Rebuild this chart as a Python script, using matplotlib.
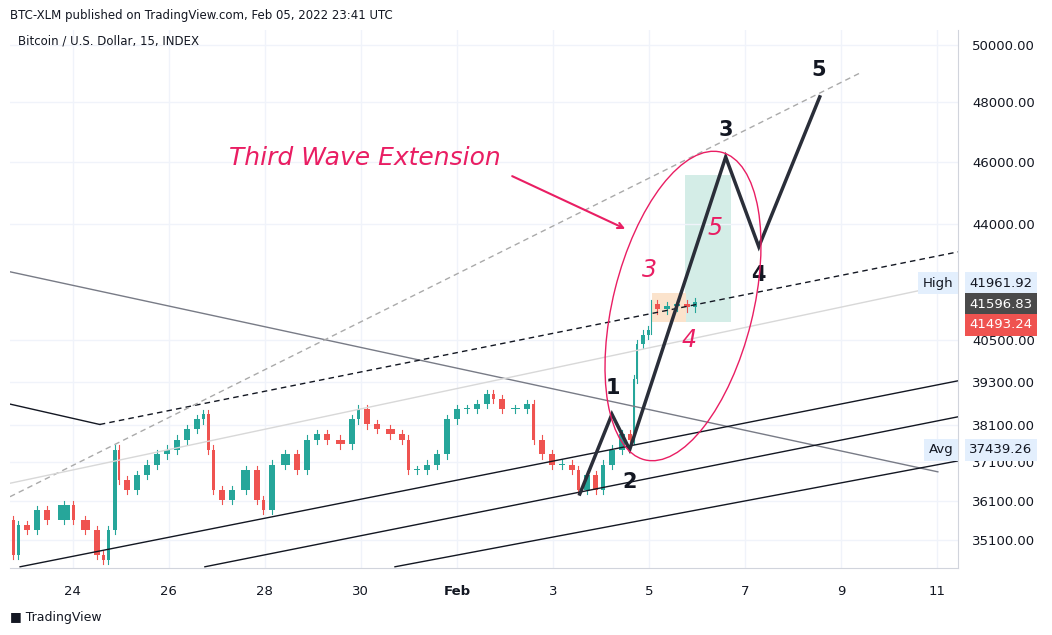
import numpy as np
import matplotlib.pyplot as plt
from matplotlib.patches import Ellipse, Rectangle
from matplotlib.transforms import IdentityTransform

# price path (day of Jan, 32 = Feb 1)
days = [22.69, 22.79, 22.9, 23.1, 23.31, 23.52, 23.94, 24.04, 24.35, 24.56, 24.67, 24.77, 24.92, 24.98,
        25.19, 25.4, 25.6, 25.81, 26.02, 26.23, 26.44, 26.65, 26.75, 26.85, 26.96, 27.17, 27.38, 27.69,
        27.9, 28.0, 28.21, 28.52, 28.73, 28.94, 29.15, 29.35, 29.67, 29.88, 29.98, 30.19, 30.4, 30.71,
        30.92, 31.02, 31.23, 31.44, 31.65, 31.85, 32.06, 32.27, 32.48, 32.69, 32.79, 33.0, 33.31, 33.52,
        33.63, 33.83, 34.04, 34.25, 34.46, 34.56, 34.77, 34.94, 35.08, 35.29, 35.5, 35.65, 35.71, 35.77,
        35.92, 36.02, 36.06, 36.23, 36.44, 36.65, 36.85, 37.0]
closes = [35600, 34720, 35480, 35350, 35860, 35600, 35980, 35600, 35350, 34720, 34600, 35350, 37440, 36630,
          36370, 36770, 37040, 37310, 37440, 37710, 37990, 38260, 38400, 37440, 36370, 36110, 36370, 36900,
          36110, 35860, 37040, 37310, 36900, 37710, 37850, 37710, 37580, 38260, 38540, 38120, 37990, 37850,
          37710, 36900, 36900, 37040, 37310, 38260, 38540, 38540, 38680, 38960, 38820, 38540, 38540, 38680,
          37710, 37310, 37040, 37040, 36900, 36370, 36770, 36370, 37040, 37440, 37850, 37710, 39380, 40380,
          40650, 40790, 41540, 41390, 41480, 41540, 41450, 41600]

yticks = [35100, 36100, 37100, 38100, 39300, 40500, 44000, 46000, 48000, 50000]
xticks = [24, 26, 28, 30, 32, 34, 36, 38, 40, 42]
xlabels = ["24", "26", "28", "30", "Feb", "3", "5", "7", "9", "11"]

# drawn lines: (days, prices)
desc_line = ([22.69, 42.02], [42520, 36850])
channel1 = ([22.9, 42.44], [34430, 39330])
channel2 = ([26.75, 42.44], [34430, 38330])
channel3 = ([30.71, 42.44], [34430, 37140])
left_solid = ([22.69, 24.56], [38680, 38120])
left_dash = ([24.56, 42.44], [38120, 43130])
gray_dash = ([22.69, 40.4], [36200, 49020])
light_line = ([22.69, 41.69], [36550, 41970])
wave_x = [34.56, 35.23, 35.6, 37.6, 38.29, 39.56]
wave_y = [36270, 38400, 37440, 46160, 43290, 48190]
wave_lbl = ["1", "2", "3", "4", "5"]
wave_lbl_x = [35.25, 35.6, 37.6, 38.29, 39.54]
wave_lbl_y = [39130, 36580, 47060, 42420, 49130]
sub_lbl = ["3", "4", "5"]
sub_lbl_x = [36.02, 36.83, 37.38]
sub_lbl_y = [42580, 40500, 43880]

# price tags: value, position on scale
tag_vals = [41961.92, 41596.83, 41493.24, 37439.26]
tag_pos = [42180, 41540, 40940, 37439.26]

W, H = 1052, 635
fig = plt.figure(figsize=(W / 100, H / 100), dpi=100)
ax = fig.add_axes([10 / W, (H - 568) / H, 948 / W, 538 / H])
ax.set_yscale("log")
ax.set_xlim(22.69, 42.44)
ax.set_ylim(34400, 50550)

pink = "#e91e63"
up, dn = "#26a69a", "#ef5350"

# candles
prev = closes[0]
for i in range(1, len(days)):
    c = closes[i]
    w = (days[i] - days[i - 1]) * 0.6
    col = up if c >= prev else dn
    lo, hi = min(prev, c), max(prev, c)
    ax.add_patch(Rectangle((days[i] - w, lo), w, max(hi - lo, 20), color=col, lw=0))
    ax.plot([days[i] - w / 2] * 2, [lo * 0.997, hi * 1.003], color=col, lw=0.8)
    prev = c

ax.plot(*desc_line, color="#787b86", lw=1)
for ln in (channel1, channel2, channel3):
    ax.plot(*ln, color="#131722", lw=1)
ax.plot(*left_solid, color="#131722", lw=1)
ax.plot(*left_dash, color="#131722", lw=1, ls=(0, (4, 3)))
ax.plot(*gray_dash, color="#aaaaaa", lw=1, ls=(0, (4, 3)))
ax.plot(*light_line, color="#d8d8d8", lw=1)

ax.add_patch(Rectangle((36.75, 41020), 0.96, 45570 - 41020, color="#d4ede7", lw=0, zorder=0.5))
ax.add_patch(Rectangle((36.06, 41020), 0.71, 41880 - 41020, color="#fbe3cc", lw=0, zorder=0.6))

ax.plot(wave_x, wave_y, color="#2a2e39", lw=2.5, solid_joinstyle="miter")
for t, x, y in zip(wave_lbl, wave_lbl_x, wave_lbl_y):
    ax.text(x, y, t, fontsize=15, fontweight="bold", color="#131722", ha="center", va="center")
for t, x, y in zip(sub_lbl, sub_lbl_x, sub_lbl_y):
    ax.text(x, y, t, fontsize=17, style="italic", color=pink, ha="center", va="center")

fig.patches.append(Ellipse((683, H - 306), 317, 140, angle=76, fill=False, ec=pink, lw=1,
                           transform=IdentityTransform()))
ax.annotate("", xy=(35.56, 43810), xytext=(33.1, 45570),
            arrowprops=dict(arrowstyle="->", color=pink, lw=1.5))
ax.text(30.08, 46120, "Third Wave Extension", fontsize=18, style="italic", color=pink,
        ha="center", va="center")

ax.set_xticks(xticks)
ax.set_xticklabels(xlabels)
ax.get_xticklabels()[4].set_fontweight("bold")
ax.yaxis.tick_right()
ax.set_yticks(yticks)
ax.set_yticklabels([f"{v:.2f}" for v in yticks])
ax.yaxis.set_minor_locator(plt.NullLocator())
ax.tick_params(length=0, labelsize=9.5, colors="#131722", pad=12)
ax.tick_params(axis="y", pad=10)
ax.grid(color="#f0f3fa", lw=1)
ax.set_axisbelow(True)
for s in ["top", "left"]:
    ax.spines[s].set_visible(False)
for s in ["right", "bottom"]:
    ax.spines[s].set_color("#d1d4dc")

tag_style = [("#e3effd", "#131722", "High"), ("#4a4a4a", "white", None),
             ("#ef5350", "white", None), ("#e3effd", "#131722", "Avg")]
tr = ax.get_yaxis_transform()
for v, p, (bg, fg, name) in zip(tag_vals, tag_pos, tag_style):
    ax.text(1.012, p, f"{v:.2f}", transform=tr, fontsize=9.5, color=fg, va="center", ha="left",
            bbox=dict(boxstyle="square,pad=0.35", fc=bg, ec="none"), zorder=5)
    if name:
        ax.text(0.995, p, name, transform=tr, fontsize=9.5, color=fg, va="center", ha="right",
                bbox=dict(boxstyle="square,pad=0.35", fc=bg, ec="none"), zorder=5)

fig.text(10 / W, 1 - 15 / H, "BTC-XLM published on TradingView.com, Feb 05, 2022 23:41 UTC",
         fontsize=8.5, color="#131722", va="center")
fig.text(18 / W, 1 - 41 / H, "Bitcoin / U.S. Dollar, 15, INDEX", fontsize=8.5, color="#131722", va="center")
fig.text(10 / W, 1 - 617 / H, "\u25A0 TradingView", fontsize=9, color="#131722", va="center")

fig.savefig("out.png", dpi=100)
